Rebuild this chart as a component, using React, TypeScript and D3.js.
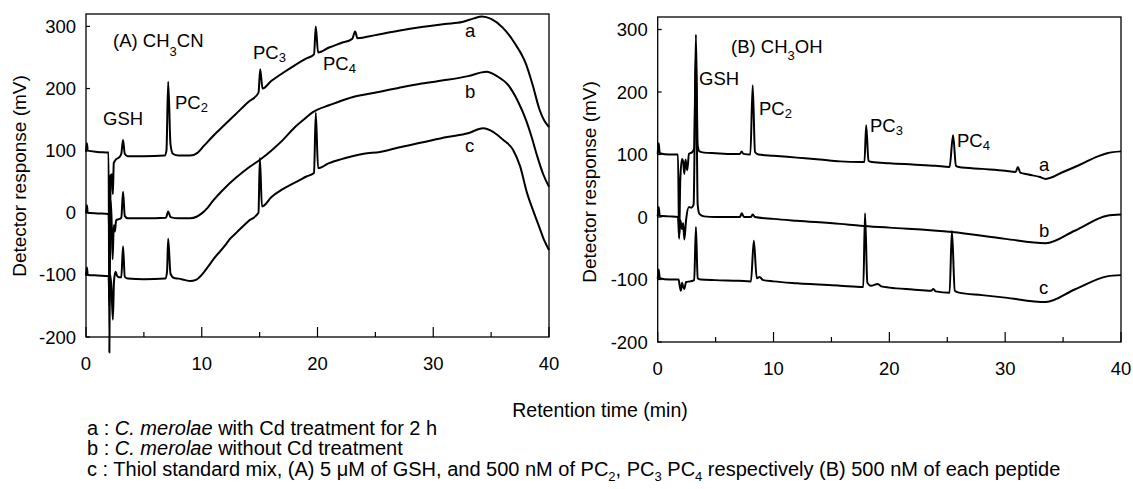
import React from "react";
import * as d3 from "d3";

type Pt = [number, number];

const xTickValues = [0, 10, 20, 30, 40];
const xMinorTicks = [5, 15, 25, 35];
const yTickValues = [-200, -100, 0, 100, 200, 300];

// Panel (A) CH3CN
const leftA: Pt[] = [
  [0, 98], [0.08, 112], [0.15, 100], [1, 98], [1.95, 97], [2.02, -225], [2.12, 60], [2.25, 62], [2.32, 30],
  [2.4, 80], [2.55, 85], [2.9, 90], [3.05, 95], [3.2, 117], [3.35, 95], [3.6, 91], [5, 91], [6.8, 92], [6.95, 100],
  [7.1, 211], [7.3, 110], [7.5, 95], [8, 92], [9, 92], [9.6, 96], [10.2, 108], [11, 124], [12, 142], [13, 160],
  [14, 178], [14.9, 193], [15.05, 231], [15.25, 200], [16, 212], [17, 225], [18, 237], [19, 248], [19.7, 255],
  [19.85, 300], [20.05, 258], [21, 266], [22, 273], [23, 280], [23.25, 292], [23.45, 281], [25, 286], [27, 293],
  [29, 299], [31, 304], [32.5, 307], [33.5, 313], [34.2, 316], [35, 312], [36, 298], [37, 274], [38, 240],
  [38.6, 205], [39.2, 165], [39.6, 148], [40, 138],
];
const leftB: Pt[] = [
  [0, -1], [0.08, 12], [0.15, 0], [1, -1], [1.95, -2], [2.05, -60], [2.12, 20], [2.2, -5], [2.3, -75], [2.4, -20],
  [2.5, -30], [2.6, -12], [2.9, -10], [3.05, -8], [3.2, 34], [3.35, -5], [3.6, -9], [5, -9], [6.9, -8], [7.1, 2],
  [7.3, -7], [8, -9], [9, -9], [9.6, -6], [10, -1], [10.5, 8], [11, 20], [12, 40], [13, 57], [14, 72], [15, 85],
  [16, 100], [17, 117], [18, 137], [19, 153], [19.6, 162], [20, 166], [21, 173], [22, 180], [23, 186], [24, 190],
  [25.4, 195], [27, 201], [29, 208], [31.2, 214], [33, 220], [34.6, 227], [35.5, 220], [36.5, 205], [37.3, 180],
  [38, 150], [38.5, 122], [39, 90], [39.5, 62], [40, 42],
];
const leftC: Pt[] = [
  [0, -101], [0.08, -88], [0.15, -100], [1, -101], [1.95, -102], [2.03, -150], [2.1, -100], [2.2, -120],
  [2.32, -172], [2.42, -110], [2.55, -95], [2.7, -102], [2.9, -104], [3.05, -104], [3.2, -54], [3.35, -103],
  [3.6, -106], [5, -107], [6.85, -106], [7.0, -95], [7.1, -42], [7.3, -98], [7.6, -105], [8, -106], [8.5, -108],
  [9, -110], [9.5, -108], [10, -100], [10.5, -88], [11, -75], [12, -53], [12.4, -43], [13, -32], [14, -14],
  [14.9, 0], [15.02, 88], [15.2, 10], [15.4, 12], [16, 25], [17, 38], [18, 48], [18.5, 53], [19, 58], [19.7, 64],
  [19.85, 161], [20.05, 72], [21, 80], [22, 86], [23, 91], [24, 95], [25.4, 98], [27, 105], [29, 113],
  [31.2, 122], [33, 128], [34.3, 136], [35.2, 130], [36, 118], [36.9, 101], [37.5, 75], [38.1, 32], [38.6, 5],
  [39.2, -25], [39.6, -45], [40, -60],
];

// Panel (B) CH3OH
const rightA: Pt[] = [
  [0, 101], [0.08, 118], [0.18, 102], [1, 100], [1.75, 100], [1.85, -35], [1.95, 60], [2.1, 93], [2.2, 88],
  [2.3, 69], [2.4, 92], [2.55, 75], [2.7, 101], [3.0, 104], [3.15, 110], [3.3, 292], [3.45, 115], [3.6, 105],
  [4, 103], [5, 102], [6, 101], [7.1, 101], [7.25, 105], [7.4, 101], [8.0, 100], [8.2, 211], [8.4, 104],
  [8.7, 100], [10, 98], [12, 95], [14, 92], [15.75, 89], [17.5, 88], [17.85, 88], [18.0, 147], [18.2, 90],
  [18.5, 88], [20, 86], [22, 84], [24, 82], [25.2, 80], [25.5, 131], [25.75, 82], [26, 80], [28, 77], [30, 74],
  [30.9, 72], [31.1, 80], [31.3, 71], [32, 68], [33, 64], [33.5, 61], [35, 72], [36.5, 84], [38, 97], [38.8, 102],
  [40, 105],
];
const rightB: Pt[] = [
  [0, 1], [0.08, 16], [0.18, 2], [1, 1], [1.75, 0], [1.85, -32], [1.95, -5], [2.1, -19], [2.2, -10], [2.3, -36],
  [2.45, -5], [2.7, 16], [2.9, 15], [3.1, 20], [3.3, 270], [3.45, 20], [3.6, 5], [4, 1], [5, 0], [7.1, 0],
  [7.25, 6], [7.45, 0], [8.05, 0], [8.2, 4], [8.4, 0], [10, -3], [12, -6], [15.75, -11], [17.5, -14], [20, -17],
  [25.4, -24], [30, -35], [33.5, -42], [36, -22], [38.8, 2], [40, 4],
];
const rightC: Pt[] = [
  [0, -99], [0.08, -84], [0.18, -98], [1, -100], [1.8, -100], [1.9, -110], [2.0, -118], [2.1, -105], [2.2, -112],
  [2.3, -115], [2.45, -104], [2.8, -103], [3.15, -101], [3.3, -16], [3.45, -98], [3.7, -100], [5, -101],
  [7, -102], [8.05, -103], [8.3, -38], [8.55, -98], [8.8, -96], [9.1, -101], [10, -103], [12, -106],
  [15.75, -110], [17.75, -112], [17.9, 6], [18.1, -105], [18.4, -110], [19, -107], [19.3, -111], [20, -113],
  [22, -116], [23.6, -118], [23.8, -115], [24, -119], [25.2, -121], [25.4, -22], [25.65, -118], [26, -121],
  [28, -125], [30, -129], [33.5, -136], [36, -116], [38.8, -95], [40, -93],
];

const FONT = "'Liberation Sans', Arial, Helvetica, sans-serif";

type PanelProps = {
  xr: [number, number];
  yr: [number, number];
  series: Pt[][];
  labelDy: number;
};

function Panel({ xr, yr, series, labelDy }: PanelProps) {
  const x = d3.scaleLinear().domain([0, 40]).range(xr);
  const y = d3.scaleLinear().domain([-200, 320]).range(yr);
  const line = d3
    .line<Pt>()
    .x((d) => x(d[0]))
    .y((d) => y(d[1]))
    .curve(d3.curveMonotoneX);
  const [L, R] = xr;
  const [B, T] = yr;
  return (
    <g>
      {series.map((s, i) => (
        <path key={i} d={line(s) || ""} fill="none" stroke="#000" strokeWidth={2} strokeLinejoin="round" />
      ))}
      <rect x={L} y={T} width={R - L} height={B - T} fill="none" stroke="#000" strokeWidth={1.3} />
      {xTickValues.map((t) => (
        <g key={"x" + t}>
          <line x1={x(t)} x2={x(t)} y1={B} y2={B - 10} stroke="#000" strokeWidth={1.2} />
          <text x={x(t)} y={B + labelDy} textAnchor="middle" fontSize={18.5} fontFamily={FONT}>
            {t}
          </text>
        </g>
      ))}
      {xMinorTicks.map((t) => (
        <line key={"m" + t} x1={x(t)} x2={x(t)} y1={B} y2={B - 5} stroke="#000" strokeWidth={1.2} />
      ))}
      {yTickValues.map((v) => (
        <g key={"y" + v}>
          <line x1={L} x2={L + 4} y1={y(v)} y2={y(v)} stroke="#000" strokeWidth={1.2} />
          <text x={L - 10} y={y(v) + 6.5} textAnchor="end" fontSize={18.5} fontFamily={FONT}>
            {v}
          </text>
        </g>
      ))}
    </g>
  );
}

function SubLabel({ x, y, main, sub, after = "", dy = 3, size = 18.5 }: any) {
  return (
    <text x={x} y={y} fontSize={size} fontFamily={FONT}>
      {main}
      <tspan fontSize={13} dy={dy}>
        {sub}
      </tspan>
      {after ? <tspan dy={-dy}>{after}</tspan> : null}
    </text>
  );
}

export default function App() {
  return (
    <svg
      width={1133}
      height={489}
      style={{ position: "absolute", left: 0, top: 0, background: "#fff" }}
      fontFamily={FONT}
    >
      <rect x={0} y={0} width={1133} height={489} fill="#fff" />
      <Panel xr={[86, 549]} yr={[337, 14]} series={[leftA, leftB, leftC]} labelDy={33} />
      <Panel xr={[657.7, 1121]} yr={[342, 17]} series={[rightA, rightB, rightC]} labelDy={33} />

      {/* Y axis titles */}
      <text transform="translate(26,176) rotate(-90)" textAnchor="middle" fontSize={19} fontFamily={FONT}>
        Detector response (mV)
      </text>
      <text transform="translate(596,182) rotate(-90)" textAnchor="middle" fontSize={19} fontFamily={FONT}>
        Detector response (mV)
      </text>

      {/* Panel A labels */}
      <SubLabel x={113} y={47} main="(A) CH" sub="3" after="CN" dy={9} />
      <text x={103} y={125} fontSize={18.5}>GSH</text>
      <SubLabel x={175} y={109} main="PC" sub="2" />
      <SubLabel x={253} y={59} main="PC" sub="3" />
      <SubLabel x={323} y={70} main="PC" sub="4" />
      <text x={465} y={37} fontSize={18.5}>a</text>
      <text x={465} y={98} fontSize={18.5}>b</text>
      <text x={465} y={152} fontSize={18.5}>c</text>

      {/* Panel B labels */}
      <SubLabel x={731} y={53} main="(B) CH" sub="3" after="OH" dy={7} />
      <text x={699} y={85} fontSize={18.5}>GSH</text>
      <SubLabel x={759} y={115} main="PC" sub="2" />
      <SubLabel x={870} y={132} main="PC" sub="3" />
      <SubLabel x={957} y={147} main="PC" sub="4" />
      <text x={1039} y={171} fontSize={18.5}>a</text>
      <text x={1039} y={237} fontSize={18.5}>b</text>
      <text x={1039} y={294} fontSize={18.5}>c</text>

      {/* X axis title */}
      <text x={600} y={417} textAnchor="middle" fontSize={19.5}>
        Retention time (min)
      </text>

      {/* Footnotes */}
      <text x={87} y={435} fontSize={20}>
        a : <tspan fontStyle="italic">C. merolae</tspan> with Cd treatment for 2 h
      </text>
      <text x={87} y={455} fontSize={20}>
        b : <tspan fontStyle="italic">C. merolae</tspan> without Cd treatment
      </text>
      <text x={87} y={476} fontSize={20}>
        c : Thiol standard mix, (A) 5 μM of GSH, and 500 nM of PC
        <tspan fontSize={13} dy={5}>2</tspan>
        <tspan dy={-5}>, PC</tspan>
        <tspan fontSize={13} dy={5}>3</tspan>
        <tspan dy={-5}> PC</tspan>
        <tspan fontSize={13} dy={5}>4</tspan>
        <tspan dy={-5}> respectively (B) 500 nM of each peptide</tspan>
      </text>
    </svg>
  );
}
